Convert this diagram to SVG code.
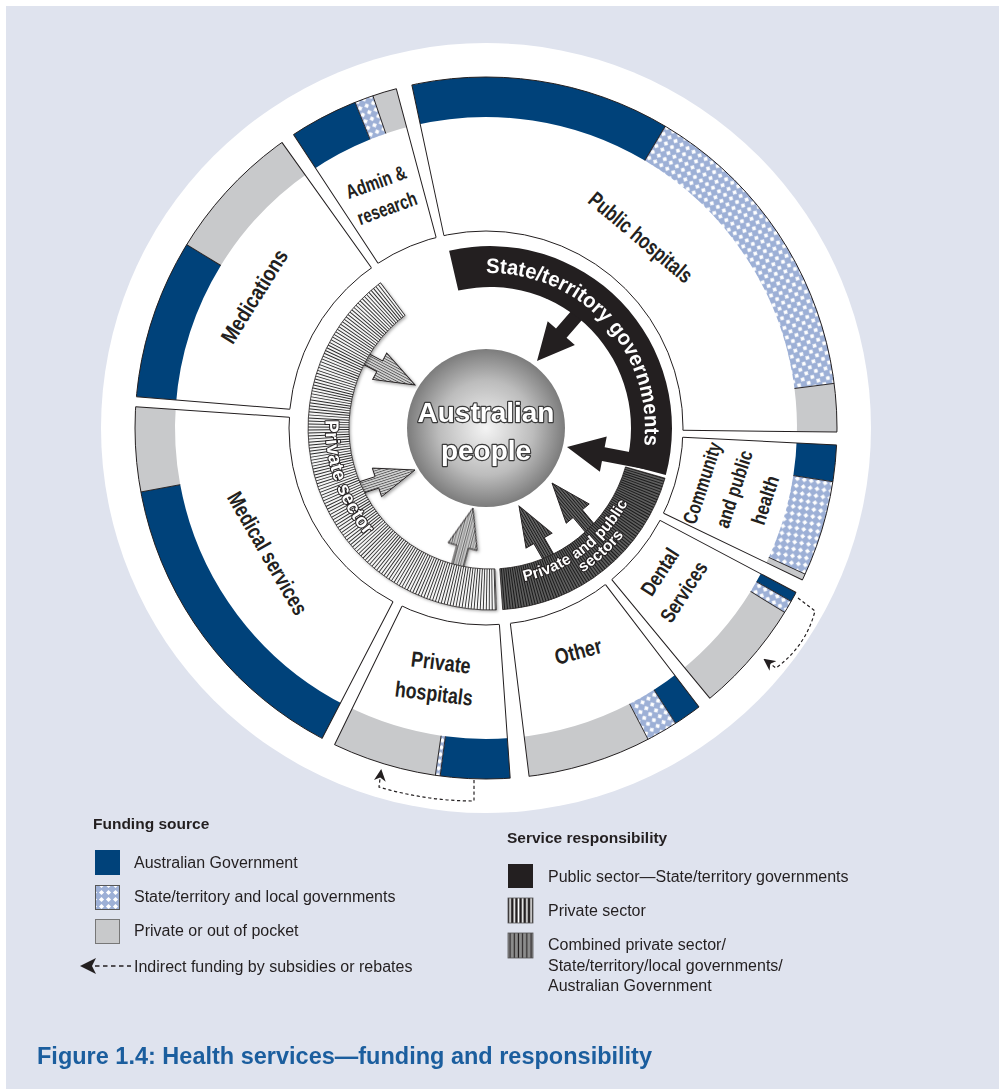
<svg xmlns="http://www.w3.org/2000/svg" width="999" height="1089" viewBox="0 0 999 1089">
<defs>
<style>
.sl{font-family:"Liberation Sans",Arial,sans-serif;font-weight:bold;fill:#231f20;text-anchor:middle}
.lg{font-family:"Liberation Sans",Arial,sans-serif;font-size:16px;fill:#231f20}
.lh{font-family:"Liberation Sans",Arial,sans-serif;font-size:15.5px;font-weight:bold;fill:#231f20}
.edge{stroke:#231f20;stroke-width:1;fill:none}
.gap{fill:#fff}
.band{fill:none;stroke-width:40}
.sep{stroke:#231f20;stroke-width:0.9}
.dash{fill:none;stroke:#231f20;stroke-width:1.2;stroke-dasharray:3.2 2.6}
.rt{font-family:"Liberation Sans",Arial,sans-serif;font-weight:bold;fill:#fff}
.ot{stroke:#231f20;stroke-width:2;paint-order:stroke;stroke-linejoin:round}
</style>
<pattern id="hatch" width="7" height="7" patternUnits="userSpaceOnUse"><rect width="7" height="7" fill="#9db0d6"/><path d="M3.5,0.9 L6.1,3.5 L3.5,6.1 L0.9,3.5Z" fill="#fff"/></pattern>
<pattern id="pL" width="2.4" height="2.4" patternUnits="userSpaceOnUse"><rect width="2.4" height="2.4" fill="#d6d6d6"/><rect width="0.9" height="2.4" fill="#5a5a5a"/></pattern>
<pattern id="pD" width="2.4" height="2.4" patternUnits="userSpaceOnUse"><rect width="2.4" height="2.4" fill="#6a6a6a"/><rect width="1" height="2.4" fill="#1a1a1a"/></pattern>
<pattern id="pVS" x="508" width="4.2" height="10" patternUnits="userSpaceOnUse"><rect width="4.2" height="10" fill="#231f20"/><rect x="1.3" width="1.6" height="10" fill="#fff"/></pattern>
<pattern id="pVC" x="508" width="4.2" height="10" patternUnits="userSpaceOnUse"><rect width="4.2" height="10" fill="#8c8c8c"/><rect x="1.5" width="1.1" height="10" fill="#231f20"/></pattern>
<radialGradient id="gC" cx="0.5" cy="0.5" r="0.5"><stop offset="0" stop-color="#f4f4f4"/><stop offset="0.6" stop-color="#bcbcbc"/><stop offset="1" stop-color="#7c7c7c"/></radialGradient>
<filter id="sh" x="-20%" y="-20%" width="140%" height="140%"><feDropShadow dx="1.5" dy="1.5" stdDeviation="1.5" flood-color="#000" flood-opacity="0.35"/></filter>
<marker id="ah" viewBox="0 0 12 12" refX="10" refY="6" markerWidth="12" markerHeight="12" markerUnits="userSpaceOnUse" orient="auto"><path d="M0,0 L12,6 L0,12 L3.5,6Z" fill="#231f20"/></marker>
<clipPath id="cPS"><path d="M496.4,609.9 A182,182 0 0 1 380.5,282.7 L405.1,315.4 A141,141 0 0 0 494.9,568.9 Z"/></clipPath>
<clipPath id="cPP"><path d="M665,478.2 A182,182 0 0 1 502.7,609.6 L499.8,568.7 A141,141 0 0 0 625.5,466.9 Z"/></clipPath>
<path id="tpST" d="M385.3,313.7 A155,155 0 0 1 594.7,542.3"/>
<path id="tpPS" d="M435.3,269.2 A168,168 0 0 0 544.7,586.8"/>
<path id="tpPP1" d="M364.6,522.5 A157,157 0 0 0 615.4,333.5"/>
<path id="tpPP2" d="M360,545.1 A175,175 0 0 0 620,310.9"/>
</defs>

<rect width="999" height="1089" fill="#fff"/>
<rect x="6" y="6" width="993" height="1083" fill="#dfe3ee"/>
<circle cx="486" cy="428" r="385" fill="#fff"/>

<!-- segment bands -->
<g id="seg-public-hospitals">
<circle cx="486" cy="428" r="331" class="band" stroke="#00427a" stroke-dasharray="255.3 3000" transform="rotate(256.5 486 428)"/>
<circle cx="486" cy="428" r="331" class="band" stroke="url(#hatch)" stroke-dasharray="300.4 3000" transform="rotate(-59.3 486 428)"/>
<circle cx="486" cy="428" r="331" class="band" stroke="#c8c9cb" stroke-dasharray="52 3000" transform="rotate(-7.3 486 428)"/>
<line class="sep" x1="486" y1="117" x2="486" y2="77" transform="rotate(30.7 486 428)"/>
<line class="sep" x1="486" y1="117" x2="486" y2="77" transform="rotate(82.7 486 428)"/>
</g>
<g id="seg-community">
<circle cx="486" cy="428" r="331" class="band" stroke="#00427a" stroke-dasharray="41 3000" transform="rotate(1.7 486 428)"/>
<circle cx="486" cy="428" r="331" class="band" stroke="url(#hatch)" stroke-dasharray="91.3 3000" transform="rotate(8.8 486 428)"/>
<circle cx="486" cy="428" r="331" class="band" stroke="#c8c9cb" stroke-dasharray="12.7 3000" transform="rotate(24.6 486 428)"/>
<line class="sep" x1="486" y1="117" x2="486" y2="77" transform="rotate(98.8 486 428)"/>
<line class="sep" x1="486" y1="117" x2="486" y2="77" transform="rotate(114.6 486 428)"/>
</g>
<g id="seg-dental">
<circle cx="486" cy="428" r="331" class="band" stroke="#00427a" stroke-dasharray="16.2 3000" transform="rotate(26.8 486 428)"/>
<circle cx="486" cy="428" r="331" class="band" stroke="url(#hatch)" stroke-dasharray="12.1 3000" transform="rotate(29.6 486 428)"/>
<circle cx="486" cy="428" r="331" class="band" stroke="#c8c9cb" stroke-dasharray="114.4 3000" transform="rotate(31.7 486 428)"/>
<line class="sep" x1="486" y1="117" x2="486" y2="77" transform="rotate(119.6 486 428)"/>
<line class="sep" x1="486" y1="117" x2="486" y2="77" transform="rotate(121.7 486 428)"/>
</g>
<g id="seg-other">
<circle cx="486" cy="428" r="331" class="band" stroke="#00427a" stroke-dasharray="33.5 3000" transform="rotate(51.5 486 428)"/>
<circle cx="486" cy="428" r="331" class="band" stroke="url(#hatch)" stroke-dasharray="30 3000" transform="rotate(57.3 486 428)"/>
<circle cx="486" cy="428" r="331" class="band" stroke="#c8c9cb" stroke-dasharray="127.1 3000" transform="rotate(62.5 486 428)"/>
<line class="sep" x1="486" y1="117" x2="486" y2="77" transform="rotate(147.3 486 428)"/>
<line class="sep" x1="486" y1="117" x2="486" y2="77" transform="rotate(152.5 486 428)"/>
</g>
<g id="seg-private-hospitals">
<circle cx="486" cy="428" r="331" class="band" stroke="#00427a" stroke-dasharray="75.1 3000" transform="rotate(84.5 486 428)"/>
<circle cx="486" cy="428" r="331" class="band" stroke="url(#hatch)" stroke-dasharray="4.6 3000" transform="rotate(97.5 486 428)"/>
<circle cx="486" cy="428" r="331" class="band" stroke="#c8c9cb" stroke-dasharray="106.3 3000" transform="rotate(98.3 486 428)"/>
<line class="sep" x1="486" y1="117" x2="486" y2="77" transform="rotate(187.5 486 428)"/>
<line class="sep" x1="486" y1="117" x2="486" y2="77" transform="rotate(188.3 486 428)"/>
</g>
<g id="seg-medical-services">
<circle cx="486" cy="428" r="331" class="band" stroke="#00427a" stroke-dasharray="305 3000" transform="rotate(116.7 486 428)"/>
<circle cx="486" cy="428" r="331" class="band" stroke="#c8c9cb" stroke-dasharray="85.5 3000" transform="rotate(169.5 486 428)"/>
<line class="sep" x1="486" y1="117" x2="486" y2="77" transform="rotate(259.5 486 428)"/>
</g>
<g id="seg-medications">
<circle cx="486" cy="428" r="331" class="band" stroke="#00427a" stroke-dasharray="157.1 3000" transform="rotate(184.3 486 428)"/>
<circle cx="486" cy="428" r="331" class="band" stroke="#c8c9cb" stroke-dasharray="139.2 3000" transform="rotate(211.5 486 428)"/>
<line class="sep" x1="486" y1="117" x2="486" y2="77" transform="rotate(301.5 486 428)"/>
</g>
<g id="seg-admin">
<circle cx="486" cy="428" r="331" class="band" stroke="#00427a" stroke-dasharray="72.2 3000" transform="rotate(235.6 486 428)"/>
<circle cx="486" cy="428" r="331" class="band" stroke="url(#hatch)" stroke-dasharray="17.9 3000" transform="rotate(248.1 486 428)"/>
<circle cx="486" cy="428" r="331" class="band" stroke="#c8c9cb" stroke-dasharray="30.6 3000" transform="rotate(251.2 486 428)"/>
<line class="sep" x1="486" y1="117" x2="486" y2="77" transform="rotate(338.1 486 428)"/>
<line class="sep" x1="486" y1="117" x2="486" y2="77" transform="rotate(341.2 486 428)"/>
</g>

<!-- segment outlines and gaps -->
<g id="segment-outlines">
<circle cx="486" cy="428" r="351" class="edge"/>
<circle cx="486" cy="428" r="197" class="edge"/>
<g transform="rotate(346.5 486 428)"><polygon class="gap" points="477.7,66 494.3,66 489.9,236 482.1,236"/><path class="edge" d="M482,231 L478,77 M490,231 L494,77"/></g>
<g transform="rotate(91.7 486 428)"><polygon class="gap" points="479.3,66 492.7,66 489.4,236 482.6,236"/><path class="edge" d="M482.5,231 L479.5,77 M489.5,231 L492.5,77"/></g>
<g transform="rotate(116.8 486 428)"><polygon class="gap" points="478.8,66 493.2,66 489.9,236 482.1,236"/><path class="edge" d="M482,231 L479,77 M490,231 L493,77"/></g>
<g transform="rotate(141.5 486 428)"><polygon class="gap" points="478.8,66 493.2,66 489.9,236 482.1,236"/><path class="edge" d="M482,231 L479,77 M490,231 L493,77"/></g>
<g transform="rotate(174.5 486 428)"><polygon class="gap" points="476.2,66 495.8,66 491.4,236 480.6,236"/><path class="edge" d="M480.5,231 L476.5,77 M491.5,231 L495.5,77"/></g>
<g transform="rotate(206.7 486 428)"><polygon class="gap" points="478.9,66 493.1,66 490.9,236 481.1,236"/><path class="edge" d="M481,231 L479,77 M491,231 L493,77"/></g>
<g transform="rotate(274.3 486 428)"><polygon class="gap" points="480.9,66 491.1,66 490,236 482,236"/><path class="edge" d="M482,231 L481,77 M490,231 L491,77"/></g>
<g transform="rotate(325.6 486 428)"><polygon class="gap" points="478.8,66 493.2,66 489.9,236 482.1,236"/><path class="edge" d="M482,231 L479,77 M490,231 L493,77"/></g>
</g>

<!-- segment labels -->
<g id="labels">
<text class="sl" font-size="22" x="641" y="245" transform="rotate(40 641 237)" textLength="128" lengthAdjust="spacingAndGlyphs">Public hospitals</text>
<text class="sl" font-size="20" x="376" y="189" transform="rotate(-20 376 182)" textLength="63" lengthAdjust="spacingAndGlyphs">Admin &amp;</text>
<text class="sl" font-size="20" x="387" y="215" transform="rotate(-20 387 208)" textLength="62" lengthAdjust="spacingAndGlyphs">research</text>
<text class="sl" font-size="22" x="254" y="304" transform="rotate(-58 254 296)" textLength="106" lengthAdjust="spacingAndGlyphs">Medications</text>
<text class="sl" font-size="22" x="268" y="561" transform="rotate(60 268 553)" textLength="138" lengthAdjust="spacingAndGlyphs">Medical services</text>
<text class="sl" font-size="22" x="441" y="670" transform="rotate(7 441 662)" textLength="60" lengthAdjust="spacingAndGlyphs">Private</text>
<text class="sl" font-size="22" x="434" y="701" transform="rotate(7 434 693)" textLength="78" lengthAdjust="spacingAndGlyphs">hospitals</text>
<text class="sl" font-size="22" x="578" y="659" transform="rotate(-15 578 651)" textLength="48" lengthAdjust="spacingAndGlyphs">Other</text>
<text class="sl" font-size="21" x="660" y="579" transform="rotate(-57 660 572)" textLength="52" lengthAdjust="spacingAndGlyphs">Dental</text>
<text class="sl" font-size="21" x="684" y="599" transform="rotate(-57 684 592)" textLength="68" lengthAdjust="spacingAndGlyphs">Services</text>
<text class="sl" font-size="20" x="702" y="490" transform="rotate(-72 702 483)" textLength="85" lengthAdjust="spacingAndGlyphs">Community</text>
<text class="sl" font-size="20" x="734" y="496" transform="rotate(-72 734 489)" textLength="80" lengthAdjust="spacingAndGlyphs">and public</text>
<text class="sl" font-size="20" x="765" y="507" transform="rotate(-72 765 500)" textLength="50" lengthAdjust="spacingAndGlyphs">health</text>
</g>

<!-- connectors: arrows to Australian people -->
<g id="connectors">
<g fill="#231f20">
<polygon points="0,0 18,37 7,37 7,85 -7,85 -7,37 -18,37" transform="translate(537 361) rotate(221)"/>
<polygon points="0,0 18,37 7,37 7,85 -7,85 -7,37 -18,37" transform="translate(567 447) rotate(281)"/>
</g>
<g fill="url(#pL)" stroke="#231f20" stroke-width="0.9" filter="url(#sh)">
<polygon points="0,0 15,40 6,40 6,85 -6,85 -6,40 -15,40" transform="translate(415 385) rotate(118)"/>
<polygon points="0,0 15,40 6,40 6,85 -6,85 -6,40 -15,40" transform="translate(415 470) rotate(72)"/>
<polygon points="0,0 15,40 6,40 6,85 -6,85 -6,40 -15,40" transform="translate(473 508) rotate(15)"/>
</g>
<g fill="url(#pD)" stroke="#231f20" stroke-width="0.9">
<polygon points="0,0 15,40 6,40 6,85 -6,85 -6,40 -15,40" transform="translate(519 506) rotate(330)"/>
<polygon points="0,0 15,40 6,40 6,85 -6,85 -6,40 -15,40" transform="translate(552 483) rotate(320)"/>
</g>
<path class="dash" d="M474,780 L474,801 Q426,801 379,787 L381,771" marker-end="url(#ah)"/>
<path class="dash" d="M798,598 L815,611 Q806,646 776,668 L765,660" marker-end="url(#ah)"/>
</g>

<!-- inner ring -->
<g id="ring-state">
<path d="M449.1,250.7 A182,182 0 0 1 665.8,475.1 L626.2,464.5 A141,141 0 0 0 458.3,290.6 Z" fill="#231f20"/>
<text class="rt" font-size="21"><textPath href="#tpST" startOffset="50%" text-anchor="middle" textLength="265" lengthAdjust="spacingAndGlyphs">State/territory governments</textPath></text>
</g>
<g id="ring-private-public">
<path d="M665,478.2 A182,182 0 0 1 502.7,609.6 L499.8,568.7 A141,141 0 0 0 625.5,466.9 Z" fill="#5e5e5e"/>
<circle cx="490" cy="428" r="161.5" fill="none" stroke="#1c1c1c" stroke-width="42" stroke-dasharray="1 1.5" clip-path="url(#cPP)"/>
<path d="M665,478.2 A182,182 0 0 1 502.7,609.6 L499.8,568.7 A141,141 0 0 0 625.5,466.9 Z" fill="none" stroke="#231f20" stroke-width="0.8"/>
<text class="rt ot" font-size="15.5"><textPath href="#tpPP1" startOffset="50%" text-anchor="middle" textLength="134" lengthAdjust="spacingAndGlyphs">Private and public</textPath></text>
<text class="rt ot" font-size="15.5"><textPath href="#tpPP2" startOffset="50%" text-anchor="middle" textLength="56" lengthAdjust="spacingAndGlyphs">sectors</textPath></text>
</g>
<g id="ring-private">
<path d="M496.4,609.9 A182,182 0 0 1 380.5,282.7 L405.1,315.4 A141,141 0 0 0 494.9,568.9 Z" fill="#f4f4f4" filter="url(#sh)"/>
<circle cx="490" cy="428" r="161.5" fill="none" stroke="#2a2a2a" stroke-width="42" stroke-dasharray="0.9 1.8" clip-path="url(#cPS)"/>
<path d="M496.4,609.9 A182,182 0 0 1 380.5,282.7 L405.1,315.4 A141,141 0 0 0 494.9,568.9 Z" fill="none" stroke="#231f20" stroke-width="0.8"/>
<text class="rt ot" font-size="19"><textPath href="#tpPS" startOffset="50%" text-anchor="middle" textLength="125" lengthAdjust="spacingAndGlyphs">Private sector</textPath></text>
</g>

<g id="node-australian-people">
<circle cx="486" cy="428" r="79" fill="url(#gC)"/>
<text class="rt ot" font-size="28" x="486" y="422" text-anchor="middle" style="stroke:#3a3a3a;stroke-width:2.4">Australian</text>
<text class="rt ot" font-size="28" x="486" y="460" text-anchor="middle" style="stroke:#3a3a3a;stroke-width:2.4">people</text>
</g>

<!-- legend -->
<g id="legend-funding">
<text class="lh" x="93" y="829">Funding source</text>
<rect x="95" y="850" width="25" height="25" fill="#00427a"/>
<text class="lg" x="134" y="868">Australian Government</text>
<rect x="95.5" y="885.5" width="24" height="24" fill="url(#hatch)" stroke="#555" stroke-width="1"/>
<text class="lg" x="134" y="902">State/territory and local governments</text>
<rect x="95.5" y="919.5" width="24" height="24" fill="#c8c9cb" stroke="#777" stroke-width="1"/>
<text class="lg" x="134" y="936">Private or out of pocket</text>
<path d="M80,966 L96,958 L92,966 L96,974Z" fill="#231f20"/>
<path d="M95,966 H131" fill="none" stroke="#231f20" stroke-width="1.4" stroke-dasharray="4.5 3.5"/>
<text class="lg" x="134" y="972">Indirect funding by subsidies or rebates</text>
</g>
<g id="legend-service">
<text class="lh" x="507" y="843">Service responsibility</text>
<rect x="508" y="864" width="25" height="24" fill="#231f20"/>
<text class="lg" x="548" y="882">Public sector—State/territory governments</text>
<rect x="508" y="898" width="25" height="25" fill="url(#pVS)" stroke="#555" stroke-width="0.8"/>
<text class="lg" x="548" y="916">Private sector</text>
<rect x="508" y="933" width="25" height="25" fill="url(#pVC)" stroke="#555" stroke-width="0.8"/>
<text class="lg" x="548" y="950">Combined private sector/</text>
<text class="lg" x="548" y="971">State/territory/local governments/</text>
<text class="lg" x="548" y="991">Australian Government</text>
</g>

<text x="37" y="1064" font-family="'Liberation Sans',Arial,sans-serif" font-weight="bold" font-size="23" fill="#1b5e9e" textLength="615" lengthAdjust="spacingAndGlyphs">Figure 1.4: Health services—funding and responsibility</text>
</svg>
